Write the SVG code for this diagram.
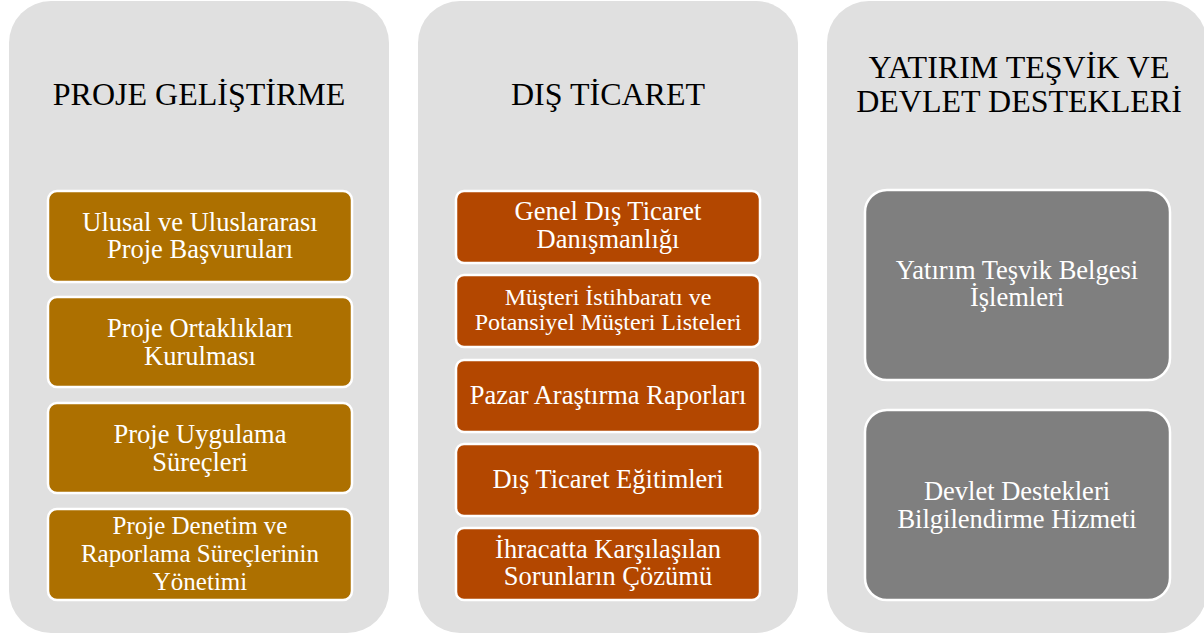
<svg xmlns="http://www.w3.org/2000/svg" width="1204" height="634" viewBox="0 0 1204 634">
<style>
.panel{fill:#e0e0e0}
.box{stroke:#ffffff;stroke-width:2.5}
.b1{fill:#ad7000}
.b2{fill:#b34700}
.b3{fill:#7f7f7f}
text{font-family:"Liberation Serif","Times New Roman",serif;text-anchor:middle}
.t{font-size:32px;fill:#000000}
.w{font-size:26.5px;fill:#ffffff}
.w3{font-size:25px;fill:#ffffff}
.ws{font-size:24px;fill:#ffffff}
</style>
<rect width="1204" height="634" fill="#ffffff"/>
<g id="panel-proje">
<rect class="panel" x="9" y="1" width="380" height="632" rx="42"/>
<text class="t" x="199" y="105">PROJE GELİŞTİRME</text>
</g>
<g id="panel-dis">
<rect class="panel" x="418" y="1" width="380" height="632" rx="42"/>
<text class="t" x="608" y="105">DIŞ TİCARET</text>
</g>
<g id="panel-yatirim">
<rect class="panel" x="827" y="1" width="380" height="632" rx="42"/>
<text class="t" x="1019" y="78">YATIRIM TEŞVİK VE</text>
<text class="t" x="1019" y="112">DEVLET DESTEKLERİ</text>
</g>
<g id="connectors"></g>
<g id="n1-1">
<rect class="box b1" x="48" y="191" width="304" height="91" rx="9"/>
<text class="w" x="200" y="231">Ulusal ve Uluslararası</text>
<text class="w" x="200" y="258">Proje Başvuruları</text>
</g>
<g id="n1-2">
<rect class="box b1" x="48" y="297" width="304" height="90" rx="9"/>
<text class="w" x="200" y="337">Proje Ortaklıkları</text>
<text class="w" x="200" y="365">Kurulması</text>
</g>
<g id="n1-3">
<rect class="box b1" x="48" y="403" width="304" height="90" rx="9"/>
<text class="w" x="200" y="443">Proje Uygulama</text>
<text class="w" x="200" y="471">Süreçleri</text>
</g>
<g id="n1-4">
<rect class="box b1" x="48" y="509" width="304" height="91" rx="9"/>
<text class="w3" x="200" y="534">Proje Denetim ve</text>
<text class="w3" x="200" y="562">Raporlama Süreçlerinin</text>
<text class="w3" x="200" y="590">Yönetimi</text>
</g>
<g id="n2-1">
<rect class="box b2" x="456" y="191" width="304" height="72" rx="8"/>
<text class="w" x="608" y="220">Genel Dış Ticaret</text>
<text class="w" x="608" y="248">Danışmanlığı</text>
</g>
<g id="n2-2">
<rect class="box b2" x="456" y="275" width="304" height="72" rx="8"/>
<text class="ws" x="608" y="305">Müşteri İstihbaratı ve</text>
<text class="ws" x="608" y="330">Potansiyel Müşteri Listeleri</text>
</g>
<g id="n2-3">
<rect class="box b2" x="456" y="360" width="304" height="72" rx="8"/>
<text class="w" x="608" y="404">Pazar Araştırma Raporları</text>
</g>
<g id="n2-4">
<rect class="box b2" x="456" y="444" width="304" height="72" rx="8"/>
<text class="w" x="608" y="488">Dış Ticaret Eğitimleri</text>
</g>
<g id="n2-5">
<rect class="box b2" x="456" y="528" width="304" height="72" rx="8"/>
<text class="w" x="608" y="558">İhracatta Karşılaşılan</text>
<text class="w" x="608" y="585">Sorunların Çözümü</text>
</g>
<g id="n3-1">
<rect class="box b3" x="865" y="190" width="305" height="190" rx="22"/>
<text class="w" x="1017" y="279">Yatırım Teşvik Belgesi</text>
<text class="w" x="1017" y="306">İşlemleri</text>
</g>
<g id="n3-2">
<rect class="box b3" x="865" y="410" width="305" height="190" rx="22"/>
<text class="w" x="1017" y="500">Devlet Destekleri</text>
<text class="w" x="1017" y="528">Bilgilendirme Hizmeti</text>
</g>
</svg>
